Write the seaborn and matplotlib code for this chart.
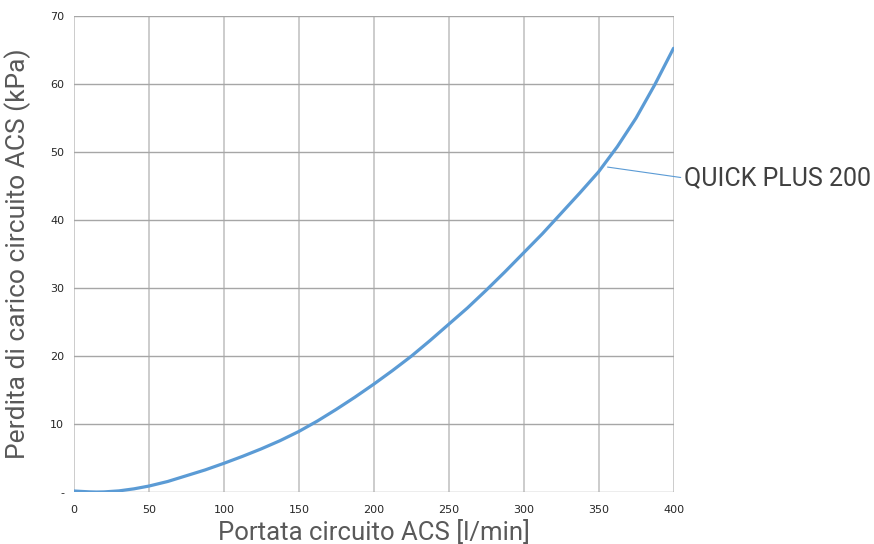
import numpy as np
import pandas as pd
import matplotlib
matplotlib.use("Agg")
import matplotlib.pyplot as plt
import seaborn as sns

# Portata (l/min) / perdita di carico (kPa)
portata = [0, 10, 15, 20, 30, 40, 50, 62.5, 75, 87.5, 100, 112.5, 125, 137.5,
           150, 162.5, 175, 187.5, 200, 212.5, 225, 237.5, 250, 262.5, 275,
           287.5, 300, 312.5, 325, 337.5, 350, 362.5, 375, 387.5, 400]
perdita = [0.2, 0.08, 0.05, 0.07, 0.22, 0.52, 0.93, 1.6, 2.45, 3.3, 4.27, 5.3,
           6.4, 7.6, 8.95, 10.5, 12.2, 14.0, 15.9, 17.9, 20.0, 22.3, 24.7,
           27.1, 29.7, 32.4, 35.2, 38.0, 41.0, 44.0, 47.1, 50.8, 55.0, 59.9,
           65.25]
serie = "QUICK PLUS 200"

x_ticks = [0, 50, 100, 150, 200, 250, 300, 350, 400]
y_ticks = [0, 10, 20, 30, 40, 50, 60, 70]
y_tick_labels = ["-", "10", "20", "30", "40", "50", "60", "70"]

df = pd.DataFrame({"portata": portata, "perdita": perdita})

sns.set_style("white")
plt.rcParams["font.family"] = ["DejaVu Sans"]

fig = plt.figure(figsize=(8.74, 5.44), dpi=100)
ax = fig.add_axes([0.0847, 0.0949, 0.6859, 0.8757])

sns.lineplot(data=df, x="portata", y="perdita", ax=ax, color="#5b9bd5",
             linewidth=2.3, zorder=3)

ax.set_xlim(0, 400)
ax.set_ylim(0, 70)
ax.set_xticks(x_ticks)
ax.set_yticks(y_ticks)
ax.set_yticklabels(y_tick_labels)
ax.grid(True, axis="y", color="#a6a6a6", linewidth=1.0)
ax.grid(True, axis="x", color="#c4c4c4", linewidth=1.2)
for s in ax.spines.values():
    s.set_visible(False)
ax.tick_params(axis="both", length=4, width=1, color="#a6a6a6",
               labelsize=8, labelcolor="#262626", pad=3, direction="out")
ax.tick_params(axis="x", pad=5)

ax.set_xlabel("Portata circuito ACS [l/min]", fontsize=18.5, color="#595959",
              family="Roboto", labelpad=4)
ax.set_ylabel("Perdita di carico circuito ACS (kPa)", fontsize=19,
              color="#595959", family="Roboto", labelpad=14)

# etichetta della serie con linea di richiamo
ax.annotate(serie, xy=(356, 47.8), xytext=(407, 46.2),
            textcoords="data", fontsize=18, color="#404040", family="Roboto",
            va="center", ha="left", annotation_clip=False,
            arrowprops=dict(arrowstyle="-", color="#5b9bd5", lw=0.8,
                            shrinkA=0, shrinkB=0,
                            relpos=(0, 0.5)))

fig.savefig("out.png", dpi=100)
